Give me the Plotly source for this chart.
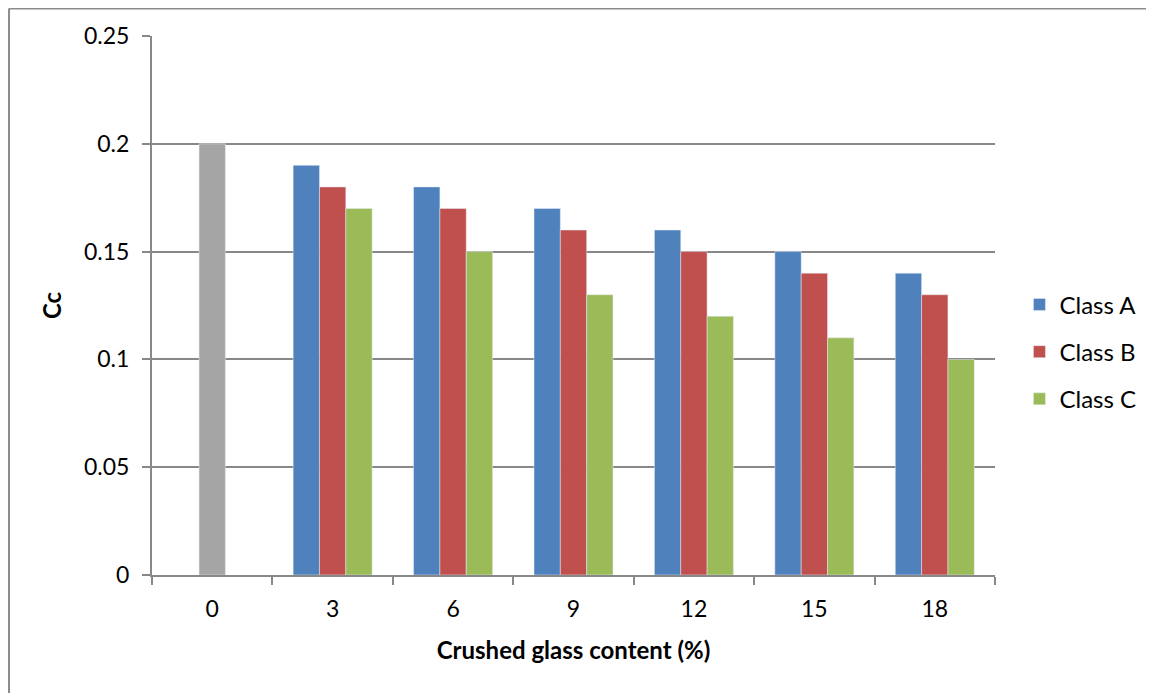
import plotly.graph_objects as go

categories = ["0", "3", "6", "9", "12", "15", "18"]
class_a = [None, 0.19, 0.18, 0.17, 0.16, 0.15, 0.14]
class_b = [None, 0.18, 0.17, 0.16, 0.15, 0.14, 0.13]
class_c = [None, 0.17, 0.15, 0.13, 0.12, 0.11, 0.10]
reference_0 = [0.20, None, None, None, None, None, None]
y_ticks = [0, 0.05, 0.1, 0.15, 0.2, 0.25]
y_tick_labels = ["0", "0.05", "0.1", "0.15", "0.2", "0.25"]

col_a = "#4F81BD"
col_b = "#C0504D"
col_c = "#9BBB59"
col_ref = "#A5A5A5"

FONT = "Lato"
axis_col = "#888888"
frame_col = "#8c8c8c"

fig = go.Figure()
fig.add_trace(go.Bar(x=categories, y=class_a, name="Class A", marker_color=col_a,
                     legendgroup="a", offsetgroup="a"))
fig.add_trace(go.Bar(x=categories, y=class_b, name="Class B", marker_color=col_b,
                     legendgroup="b", offsetgroup="b"))
fig.add_trace(go.Bar(x=categories, y=class_c, name="Class C", marker_color=col_c,
                     legendgroup="c", offsetgroup="c"))
fig.add_trace(go.Bar(x=categories, y=reference_0, name="Reference", marker_color=col_ref,
                     legendgroup="r", offsetgroup="b", showlegend=False))

# page is offset by 8px body margin; compensate in margins
fig.update_layout(
    width=1146, height=685,
    margin=dict(l=144, r=159, t=28, b=118),
    paper_bgcolor="white", plot_bgcolor="white",
    barmode="group", bargap=0.344, bargroupgap=0,
    font=dict(family=FONT, size=23, color="black"),
    showlegend=True,
    legend=dict(x=1.029, y=0.414, xanchor="left", yanchor="middle",
                font=dict(size=24, family=FONT), tracegroupgap=13,
                traceorder="grouped", itemwidth=30),
    xaxis=dict(
        type="category", categoryorder="array", categoryarray=categories,
        showline=True, linecolor=axis_col, linewidth=2,
        ticks="outside", tickson="boundaries", ticklen=8, tickcolor=axis_col, tickwidth=2,
        showgrid=False,
        tickfont=dict(size=23, family=FONT), ticklabelstandoff=12,
        title=dict(text="<b>Crushed glass content (%)</b>", font=dict(size=24, family=FONT),
                   standoff=22),
    ),
    yaxis=dict(
        range=[0, 0.25], tickvals=y_ticks, ticktext=y_tick_labels,
        showline=True, linecolor=axis_col, linewidth=2,
        ticks="outside", ticklen=8, tickcolor=axis_col, tickwidth=2,
        showgrid=True, gridcolor=axis_col, gridwidth=2,
        zeroline=False,
        tickfont=dict(size=23, family=FONT), ticklabelstandoff=8,
        title=dict(text="<b>Cc</b>", font=dict(size=24, family=FONT), standoff=16),
    ),
    shapes=[
        dict(type="line", xref="paper", yref="paper",
             x0=-0.1696, x1=-0.1696, y0=-0.5, y1=1.051,
             line=dict(color=frame_col, width=2), layer="below"),
        dict(type="line", xref="paper", yref="paper",
             x0=-0.1696, x1=1.5, y0=1.051, y1=1.051,
             line=dict(color=frame_col, width=2), layer="below"),
    ],
)

fig.write_html("out.html")
